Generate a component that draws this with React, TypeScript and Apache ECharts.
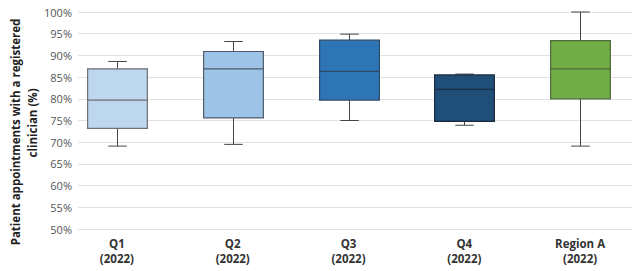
import React, { useEffect, useRef } from "react";
import * as echarts from "echarts";

const categories = ["Q1\n(2022)", "Q2\n(2022)", "Q3\n(2022)", "Q4\n(2022)", "Region A\n(2022)"];
const whiskerMin = [69.1, 69.5, 75.0, 73.9, 69.1];
const lowerQuartile = [73.2, 75.6, 79.7, 74.8, 80.0];
const medianValues = [79.7, 86.9, 86.3, 82.2, 86.9];
const upperQuartile = [86.9, 90.9, 93.5, 85.5, 93.4];
const whiskerMax = [88.6, 93.2, 94.9, 85.7, 100.0];
const fillColors = ["#bdd7ee", "#9dc3e6", "#2e75b6", "#1f4e79", "#70ad47"];
const borderColors = ["#6f6f6f", "#4f5d6b", "#2b4a68", "#1b2a3b", "#4d6b3c"];
const yMin = 50;
const yMax = 100;
const yInterval = 5;
const yTitleLine1 = "Patient appointments with a registered";
const yTitleLine2 = "clinician (%)";

const FONT = "'Open Sans', 'Noto Sans', sans-serif";

export default function App() {
  const ref = useRef<HTMLDivElement>(null);
  useEffect(() => {
    if (!ref.current) return;
    const chart = echarts.init(ref.current, undefined, { renderer: "svg" });
    const data = categories.map((_, i) => [
      i,
      whiskerMin[i],
      lowerQuartile[i],
      medianValues[i],
      upperQuartile[i],
      whiskerMax[i],
    ]);
    const option: any = {
      animation: false,
      backgroundColor: "#ffffff",
      grid: [
        { left: 78, right: 6, top: 12, bottom: 42 },
        { left: 59, right: -11, top: 12, bottom: 42 },
      ],
      xAxis: [
        { gridIndex: 0, type: "value", show: false, min: 0, max: 1 },
        {
          gridIndex: 1,
          type: "category",
          data: categories,
          axisLine: { show: false },
          axisTick: { show: false },
          splitLine: { show: false },
          axisLabel: {
            margin: 7,
            fontFamily: FONT,
            fontSize: 11.5,
            fontWeight: "bold",
            color: "#333333",
            lineHeight: 15,
          },
        },
      ],
      yAxis: [
        {
          gridIndex: 0,
          type: "value",
          min: yMin,
          max: yMax,
          interval: yInterval,
          axisLine: { show: false },
          axisTick: { show: false },
          splitLine: { show: true, lineStyle: { color: "#e2e2e2", width: 1 } },
          axisLabel: {
            margin: 6,
            fontFamily: FONT,
            fontSize: 11,
            color: "#555555",
            formatter: (v: number) => `${v}%`,
          },
        },
        {
          gridIndex: 1,
          type: "value",
          min: yMin,
          max: yMax,
          show: false,
          splitLine: { show: false },
        },
      ],
      graphic: [
        {
          type: "text",
          x: 15,
          y: 132,
          rotation: Math.PI / 2,
          style: {
            text: yTitleLine1,
            font: `bold 11.5px ${FONT}`,
            fill: "#222222",
            align: "center",
            verticalAlign: "middle",
          },
        },
        {
          type: "text",
          x: 32,
          y: 123,
          rotation: Math.PI / 2,
          style: {
            text: yTitleLine2,
            font: `bold 11.5px ${FONT}`,
            fill: "#222222",
            align: "center",
            verticalAlign: "middle",
          },
        },
      ],
      series: [
        {
          type: "custom",
          xAxisIndex: 1,
          yAxisIndex: 1,
          data,
          encode: { x: 0, y: [1, 2, 3, 4, 5] },
          renderItem: (params: any, api: any) => {
            const idx = api.value(0);
            const bw = api.size([1, 0])[0];
            const half = bw * 0.258;
            const capHalf = bw * 0.08;
            const pMin = api.coord([idx, api.value(1)]);
            const pQ1 = api.coord([idx, api.value(2)]);
            const pMed = api.coord([idx, api.value(3)]);
            const pQ3 = api.coord([idx, api.value(4)]);
            const pMax = api.coord([idx, api.value(5)]);
            const cx = Math.round(pMed[0]) + 0.5;
            const fill = fillColors[params.dataIndex];
            const border = borderColors[params.dataIndex];
            const whisker = { stroke: "#454545", lineWidth: 1 };
            return {
              type: "group",
              children: [
                { type: "line", shape: { x1: cx, y1: pMax[1], x2: cx, y2: pQ3[1] }, style: whisker },
                { type: "line", shape: { x1: cx, y1: pQ1[1], x2: cx, y2: pMin[1] }, style: whisker },
                { type: "line", shape: { x1: cx - capHalf, y1: pMax[1], x2: cx + capHalf, y2: pMax[1] }, style: whisker },
                { type: "line", shape: { x1: cx - capHalf, y1: pMin[1], x2: cx + capHalf, y2: pMin[1] }, style: whisker },
                {
                  type: "rect",
                  shape: { x: cx - half, y: pQ3[1], width: half * 2, height: pQ1[1] - pQ3[1] },
                  style: { fill, stroke: border, lineWidth: 1.2 },
                },
                {
                  type: "line",
                  shape: { x1: cx - half, y1: pMed[1], x2: cx + half, y2: pMed[1] },
                  style: { stroke: border, lineWidth: 1.2 },
                },
              ],
            };
          },
        },
      ],
    };
    chart.setOption(option);
    return () => chart.dispose();
  }, []);
  return (
    <div
      ref={ref}
      style={{ position: "fixed", left: 0, top: 0, width: 638, height: 271 }}
    />
  );
}
